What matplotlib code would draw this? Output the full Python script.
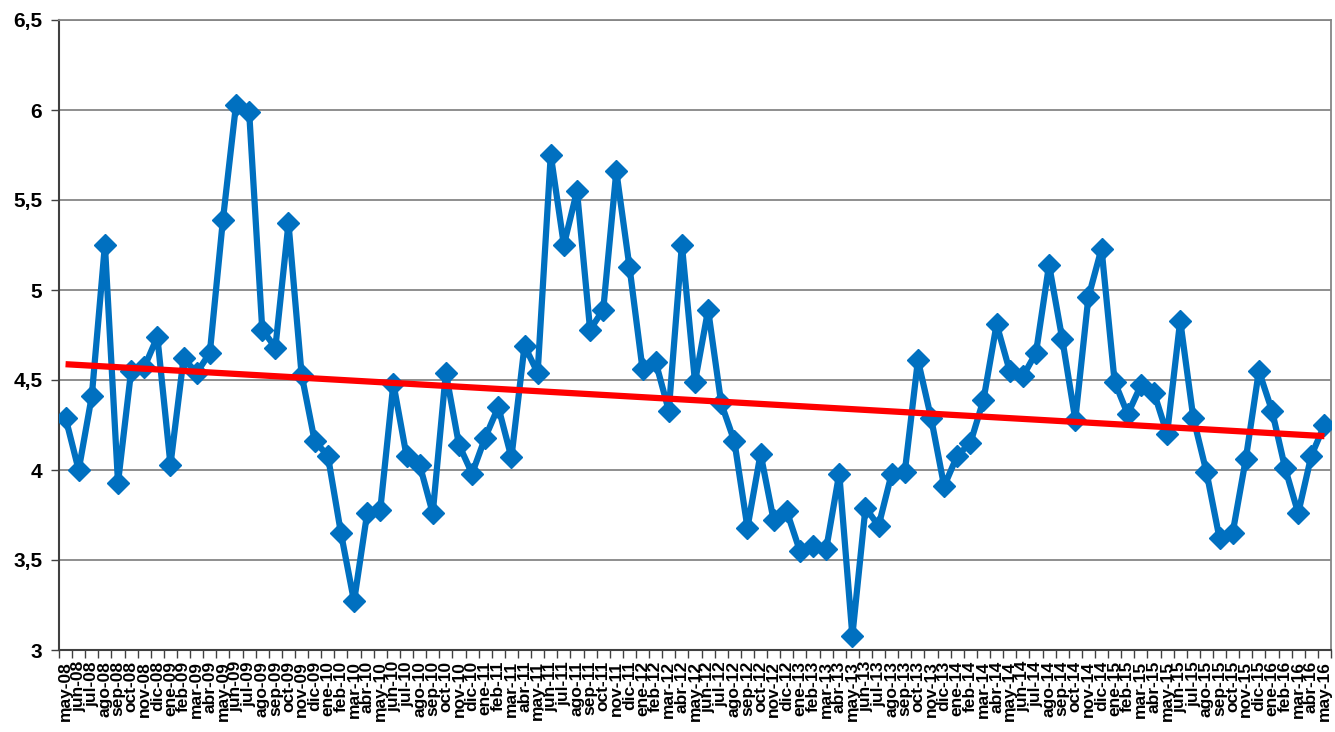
import numpy as np
import matplotlib.pyplot as plt
from matplotlib.ticker import FixedLocator

plt.rcParams['font.family'] = ['Liberation Sans', 'DejaVu Sans']

months = ['ene', 'feb', 'mar', 'abr', 'may', 'jun',
          'jul', 'ago', 'sep', 'oct', 'nov', 'dic']
# may-08 .. may-16
labels = []
for year in range(8, 17):
    for i, m in enumerate(months):
        if (year == 8 and i < 4) or (year == 16 and i > 4):
            continue
        labels.append('%s-%02d' % (m, year))

values = [4.29, 4.00, 4.41, 5.25, 3.93, 4.55, 4.57, 4.74,            # 2008
          4.03, 4.62, 4.54, 4.65, 5.39, 6.03, 5.99, 4.78, 4.68, 5.37, 4.53, 4.16,  # 2009
          4.08, 3.65, 3.27, 3.76, 3.78, 4.48, 4.08, 4.03, 3.76, 4.54, 4.14, 3.98,  # 2010
          4.18, 4.35, 4.07, 4.69, 4.54, 5.75, 5.25, 5.55, 4.78, 4.89, 5.66, 5.13,  # 2011
          4.56, 4.60, 4.33, 5.25, 4.49, 4.89, 4.37, 4.16, 3.68, 4.09, 3.72, 3.77,  # 2012
          3.55, 3.58, 3.56, 3.98, 3.08, 3.79, 3.69, 3.98, 3.99, 4.61, 4.29, 3.91,  # 2013
          4.08, 4.15, 4.39, 4.81, 4.55, 4.52, 4.65, 5.14, 4.73, 4.28, 4.96, 5.23,  # 2014
          4.49, 4.31, 4.47, 4.43, 4.20, 4.83, 4.29, 3.99, 3.62, 3.65, 4.06, 4.55,  # 2015
          4.33, 4.01, 3.76, 4.08, 4.25]                                           # 2016

yticks = [3, 3.5, 4, 4.5, 5, 5.5, 6, 6.5]
ytick_labels = ['3', '3,5', '4', '4,5', '5', '5,5', '6', '6,5']

x = np.arange(len(values))
slope, icpt = np.polyfit(x, values, 1)

fig = plt.figure(figsize=(13.35, 7.32), dpi=100)
ax = fig.add_axes([59 / 1335, 1 - 650 / 732, (1331 - 59) / 1335, 630 / 732])

ax.set_yticks(yticks)
ax.yaxis.grid(True, color='#868686', linewidth=1.3)
ax.set_axisbelow(True)

ax.plot(x, values, color='#0070C0', linewidth=4.5, marker='D', markersize=11,
        zorder=3)
ax.plot([x[0], x[-1]], [icpt + slope * x[0], icpt + slope * x[-1]],
        color='#FF0000', linewidth=4.5, solid_capstyle='butt', zorder=4)

ax.set_xlim(-0.5, len(values) - 0.5)
ax.set_ylim(3, 6.5)

ax.set_yticklabels(ytick_labels, fontsize=15, fontweight='bold')
ax.set_xticks(x)
ax.set_xticklabels(labels, rotation=90, fontsize=12.5, fontweight='bold')
ax.tick_params(axis='x', length=0, pad=8)
ax.xaxis.set_minor_locator(FixedLocator(np.arange(-0.5, len(values), 1)))
ax.tick_params(axis='x', which='minor', length=6, color='#404040', width=1)
ax.tick_params(axis='y', length=6, color='#404040', width=1, pad=6)

ax.spines['left'].set_color('#404040')
ax.spines['bottom'].set_color('#404040')
ax.spines['left'].set_linewidth(1.5)
ax.spines['bottom'].set_linewidth(1.5)
ax.spines['top'].set_color('#868686')
ax.spines['right'].set_color('#868686')
ax.spines['top'].set_linewidth(1.3)
ax.spines['right'].set_linewidth(1.3)

plt.savefig('out.png', dpi=100)
